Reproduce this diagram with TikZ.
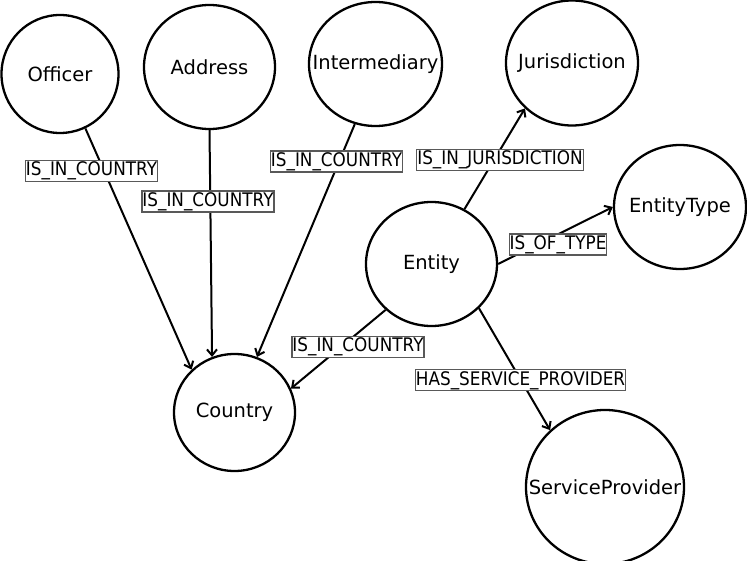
\documentclass[tikz,border=0pt]{standalone}
\usepackage{fontspec}
\setmainfont{DejaVu Sans}
\newfontfamily\relfont[FakeStretch=0.9]{DejaVu Sans}
\usetikzlibrary{shapes.geometric,arrows.meta}
\newcommand{\nm}[1]{\makebox[0pt]{#1}}

\begin{document}
\begin{tikzpicture}[x=1pt,y=-1pt,
  ent/.style={ellipse,draw,line width=2.3pt,inner sep=0pt,font=\fontsize{19.5}{23}\selectfont},
  rel/.style={draw=black!65,line width=1.2pt,fill=white,inner xsep=0.5pt,inner ysep=1.5pt,
    font=\relfont\fontsize{18.7}{22}\selectfont,text height=14pt,text depth=4pt},
  arr/.style={line width=2pt,-{Straight Barb[length=6pt,width=10pt]}}]
\useasboundingbox (0,0) rectangle (747,561);
\node [ent,minimum width=117pt,minimum height=118pt] (off) at (60,74) {\nm{Officer}};
\node [ent,minimum width=131pt,minimum height=124pt] (adr) at (209.5,67) {\nm{Address}};
\node [ent,minimum width=133pt,minimum height=124pt] (int) at (375.5,64) {\nm{Intermediary}};
\node [ent,minimum width=132pt,minimum height=125pt] (jur) at (572,63) {\nm{Jurisdiction}};
\node [ent,minimum width=132pt,minimum height=124pt] (typ) at (680,207) {\nm{EntityType}};
\node [ent,minimum width=131pt,minimum height=124pt] (ent) at (431.5,264) {\nm{Entity}};
\node [ent,minimum width=121pt,minimum height=117pt] (cty) at (234.5,412.5) {\nm{Country}};
\node [ent,minimum width=158pt,minimum height=154pt] (sp) at (605,487) {\nm{ServiceProvider}};

\draw [arr] (off.-65) -- (cty.135);
\draw [arr] (adr.-90) -- (cty.112);
\draw [arr] (int.-109) -- (cty.68);
\draw [arr] (ent.-135) -- (cty.23);
\draw [arr] (ent.59) -- (jur.-136);
\draw [arr] (ent.0) -- (typ.180);
\draw [arr] (ent.-43) -- (sp.134);

\node [rel] (l1) at (91.5,171) {IS\_IN\_COUNTRY};
\node [rel] (l2) at (208,201.5) {IS\_IN\_COUNTRY};
\node [rel] (l3) at (336.5,161.5) {IS\_IN\_COUNTRY};
\node [rel] (l4) at (358,347) {IS\_IN\_COUNTRY};
\node [rel] (l5) at (500,160) {IS\_IN\_JURISDICTION};
\node [rel] (l6) at (558,244.5) {IS\_OF\_TYPE};
\node [rel] (l7) at (520.5,380) {HAS\_SERVICE\_PROVIDER};
\end{tikzpicture}
\end{document}
